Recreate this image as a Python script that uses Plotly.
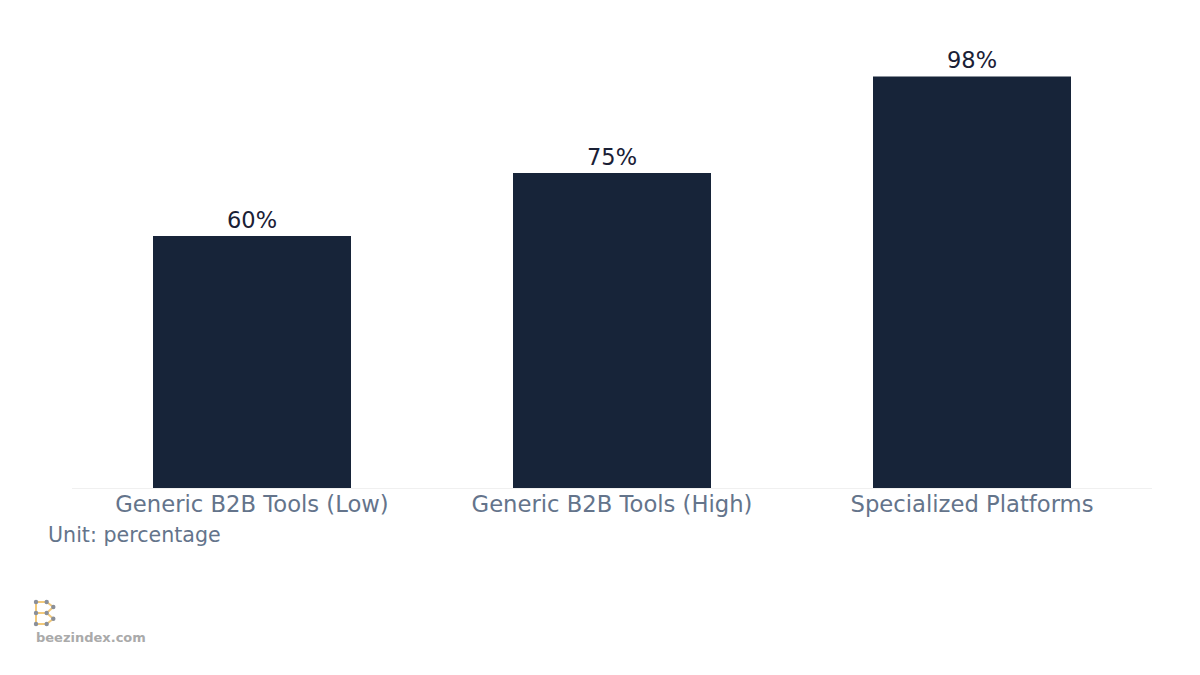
import plotly.graph_objects as go

# data
categories = ["Generic B2B Tools (Low)", "Generic B2B Tools (High)", "Specialized Platforms"]
values = [60, 75, 98]
labels = ["60%", "75%", "98%"]

BAR_COLOR = "#172439"
TEXT_COLOR = "#1a2035"
TICK_COLOR = "#64748b"
FONT = "DejaVu Sans"

# plot area geometry (figure pixels)
L, R, T, B = 64, 56, 39, 195
PW, PH = 1200 - L - R, 675 - T - B


def paper(x, y):
    """figure pixel -> paper coords"""
    return (x - L) / PW, (675 - B - y) / PH


fig = go.Figure()
fig.add_trace(
    go.Bar(
        x=categories,
        y=values,
        text=labels,
        textposition="outside",
        textfont=dict(family=FONT, size=22.5, color=TEXT_COLOR),
        marker=dict(color=BAR_COLOR, line=dict(width=0)),
        width=0.55,
        cliponaxis=False,
        hoverinfo="skip",
    )
)

fig.update_layout(
    width=1200,
    height=675,
    margin=dict(l=L, r=R, t=T, b=B),
    paper_bgcolor="white",
    plot_bgcolor="white",
    showlegend=False,
    font=dict(family=FONT),
    xaxis=dict(
        showgrid=False,
        showline=True,
        linecolor="#f0f0f0",
        linewidth=1,
        ticks="",
        tickfont=dict(family=FONT, size=22.7, color=TICK_COLOR),
        tickangle=0,
        ticklabelstandoff=-4,
    ),
    yaxis=dict(
        range=[0, 105],
        visible=False,
        showgrid=False,
        zeroline=False,
    ),
)

# unit note
ux, uy = paper(38, 527)
fig.add_annotation(
    xref="paper", yref="paper",
    x=ux, y=uy,
    xanchor="left", yanchor="middle",
    text="Unit: percentage",
    showarrow=False,
    font=dict(family=FONT, size=20.6, color=TICK_COLOR),
)

# logo: "B" made of lines and dots, plus site name
pts = [(28, 594), (38.7, 594), (45.3, 599), (38.7, 605), (28, 605),
       (38.7, 605), (45.3, 610.7), (38.7, 616), (28, 616)]
segments = list(zip(pts[:-1], pts[1:])) + [((28, 594), (28, 616))]
for (xa, ya), (xb, yb) in segments:
    x0, y0 = paper(xa, ya)
    x1, y1 = paper(xb, yb)
    fig.add_shape(
        type="line", xref="paper", yref="paper",
        x0=x0, y0=y0, x1=x1, y1=y1,
        line=dict(color="#f2c97a", width=2),
    )
dots = [(28, 594), (38.7, 594), (45.3, 599), (28, 605), (38.7, 605),
        (45.3, 610.7), (28, 616), (38.7, 616)]
for xa, ya in dots:
    x0, y0 = paper(xa - 2.2, ya + 2.2)
    x1, y1 = paper(xa + 2.2, ya - 2.2)
    fig.add_shape(
        type="circle", xref="paper", yref="paper",
        x0=x0, y0=y0, x1=x1, y1=y1,
        fillcolor="#8a8f99", line=dict(width=0),
    )
bx, by = paper(26, 629)
fig.add_annotation(
    xref="paper", yref="paper",
    x=bx, y=by,
    xanchor="left", yanchor="middle",
    text="<b>beezindex.com</b>",
    showarrow=False,
    font=dict(family=FONT, size=13, color="#aaaaaa"),
)

fig.write_html("out.html")
